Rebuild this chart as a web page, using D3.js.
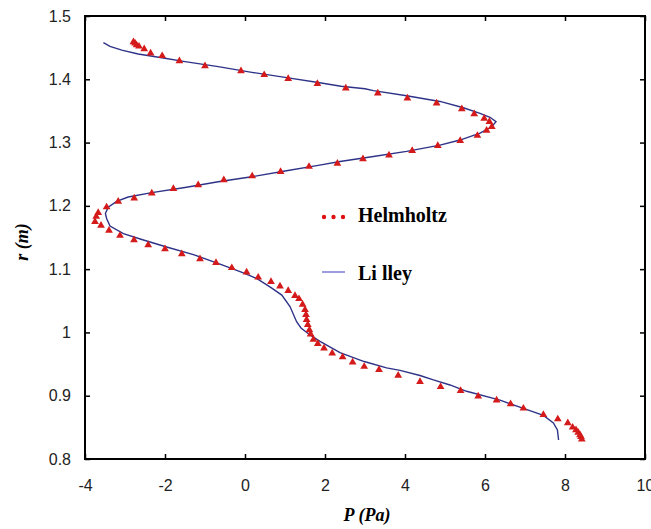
<!DOCTYPE html>
<html>
<head>
<meta charset="utf-8">
<script src="https://cdn.jsdelivr.net/npm/d3@7"></script>
<style>
  body { margin: 0; background: #fff; }
  .tick text { font-family: "Liberation Sans", Arial, sans-serif; font-size: 16px; fill: #222; }
  .tick line { stroke: #000; stroke-width: 1.5px; }
  .title { font-family: "Liberation Serif", "Times New Roman", serif; font-weight: bold; font-style: italic; font-size: 18px; }
  .legText { font-family: "Liberation Serif", "Times New Roman", serif; font-weight: bold; font-size: 20px; }
</style>
</head>
<body>
<div id="chart"></div>
<script>
// Axis ticks
var xTicks = [-4, -2, 0, 2, 4, 6, 8, 10];
var yTicks = [0.8, 0.9, 1, 1.1, 1.2, 1.3, 1.4, 1.5];

// Lilley (solid line): pressure P (Pa) and radius r (m)
var lilleyP = [-3.54, -3.375, -3.08, -2.67, -2.08, -1.5, -0.67, 0.17, 1.0, 1.83, 2.4, 3.0, 3.21, 4.04, 4.875, 5.46, 5.875, 6.125, 6.275,
  6.17, 5.875, 5.375, 4.875, 4.04, 3.21, 2.375, 1.83, 1.0, 0.17, -0.67, -1.5, -2.33, -2.92, -3.21, -3.42, -3.49, -3.46, -3.375,
  -3.04, -2.54, -1.96, -1.29, -0.625, -0.04, 0.3, 0.67, 0.92, 1.125, 1.29, 1.4, 1.625, 1.875, 2.375, 2.98, 3.54, 3.875, 4.375,
  4.71, 5.125, 5.54, 6.375, 6.96, 7.46, 7.71, 7.81, 7.84];
var lilleyR = [1.458, 1.452, 1.446, 1.440, 1.434, 1.428, 1.420, 1.411, 1.403, 1.395, 1.389, 1.385, 1.382, 1.374, 1.365, 1.355, 1.346, 1.340, 1.333,
  1.325, 1.315, 1.304, 1.296, 1.286, 1.278, 1.270, 1.264, 1.255, 1.246, 1.238, 1.229, 1.221, 1.214, 1.207, 1.198, 1.188, 1.180, 1.168,
  1.156, 1.146, 1.135, 1.123, 1.108, 1.094, 1.085, 1.070, 1.059, 1.041, 1.017, 1.007, 0.996, 0.986, 0.968, 0.954, 0.944, 0.940, 0.932,
  0.925, 0.917, 0.907, 0.893, 0.880, 0.869, 0.857, 0.846, 0.830];

// Helmholtz (red markers)
var helmP = [-2.79, -2.75, -2.71, -2.65, -2.52, -2.36, -2.07, -1.64, -1.0, -0.1, 0.48, 1.08, 1.81, 2.52, 3.32, 4.06, 4.79, 5.42, 5.73,
  5.98, 6.11, 6.17, 6.04, 5.81, 5.38, 4.82, 4.18, 3.6, 2.95, 2.31, 1.6, 0.89, 0.18, -0.53, -1.17, -1.79, -2.33, -2.77, -3.17, -3.46,
  -3.67, -3.72, -3.75, -3.6, -3.4, -3.125, -2.775, -2.42, -2.0, -1.58, -1.125, -0.725, -0.33, 0.04, 0.33, 0.65, 0.875, 1.08, 1.25,
  1.35, 1.44, 1.5, 1.525, 1.54, 1.57, 1.61, 1.64, 1.71, 1.82, 1.975, 2.18, 2.44, 2.69, 2.98, 3.35, 3.83, 4.375, 4.89, 5.39, 5.83,
  6.29, 6.64, 6.96, 7.46, 7.82, 8.07, 8.19, 8.275, 8.33, 8.375, 8.4, 8.42];
var helmR = [1.459, 1.457, 1.454, 1.452, 1.448, 1.441, 1.437, 1.429, 1.421, 1.413, 1.407, 1.401, 1.393, 1.386, 1.378, 1.370, 1.362, 1.353, 1.345,
  1.338, 1.333, 1.325, 1.319, 1.311, 1.303, 1.295, 1.287, 1.280, 1.274, 1.267, 1.262, 1.254, 1.247, 1.241, 1.233, 1.227, 1.220, 1.212, 1.207, 1.198,
  1.189, 1.183, 1.175, 1.169, 1.161, 1.153, 1.146, 1.138, 1.132, 1.124, 1.116, 1.110, 1.102, 1.095, 1.087, 1.080, 1.073, 1.066, 1.058,
  1.053, 1.044, 1.036, 1.028, 1.020, 1.012, 1.004, 0.997, 0.989, 0.982, 0.975, 0.967, 0.961, 0.953, 0.946, 0.941, 0.932, 0.922, 0.914, 0.908, 0.899,
  0.893, 0.887, 0.880, 0.870, 0.863, 0.857, 0.850, 0.846, 0.842, 0.838, 0.835, 0.831];

var width = 651, height = 529;
// plot frame edges
var plotLeft = 85, plotRight = 645, plotTop = 16, plotBottom = 459;

var svg = d3.select("#chart").append("svg")
  .attr("width", width)
  .attr("height", height);

var xScale = d3.scaleLinear().domain([-4, 10]).range([plotLeft, plotRight]);
var yScale = d3.scaleLinear().domain([0.8, 1.5]).range([plotBottom, plotTop]);

// plain hyphen for negatives, like the original
function xFmt(d) { return String(d); }
function yFmt(d) { return d === 1 ? "1" : d.toFixed(1); }

// axes with inward ticks on all four sides
svg.append("g")
  .attr("transform", "translate(0," + plotBottom + ")")
  .call(d3.axisBottom(xScale).tickValues(xTicks).tickSizeInner(-5).tickSizeOuter(0).tickPadding(21).tickFormat(xFmt))
  .call(function(g) { g.select(".domain").remove(); });
svg.append("g")
  .attr("transform", "translate(0," + plotTop + ")")
  .call(d3.axisTop(xScale).tickValues(xTicks).tickSizeInner(-5).tickSizeOuter(0).tickFormat(""))
  .call(function(g) { g.select(".domain").remove(); });
svg.append("g")
  .attr("transform", "translate(" + plotLeft + ",0)")
  .call(d3.axisLeft(yScale).tickValues(yTicks).tickSizeInner(-5).tickSizeOuter(0).tickPadding(14).tickFormat(yFmt))
  .call(function(g) { g.select(".domain").remove(); });
svg.append("g")
  .attr("transform", "translate(" + plotRight + ",0)")
  .call(d3.axisRight(yScale).tickValues(yTicks).tickSizeInner(-5).tickSizeOuter(0).tickFormat(""))
  .call(function(g) { g.select(".domain").remove(); });

// frame
svg.append("rect")
  .attr("x", plotLeft).attr("y", plotTop)
  .attr("width", plotRight - plotLeft).attr("height", plotBottom - plotTop)
  .attr("fill", "none").attr("stroke", "#000").attr("stroke-width", 2);

// Lilley line
var lilley = lilleyP.map(function(p, i) { return [p, lilleyR[i]]; });
var line = d3.line()
  .x(function(d) { return xScale(d[0]); })
  .y(function(d) { return yScale(d[1]); });
svg.append("path")
  .datum(lilley)
  .attr("d", line)
  .attr("fill", "none")
  .attr("stroke", "#2e3388")
  .attr("stroke-width", 1.4);

// Helmholtz markers
var helm = helmP.map(function(p, i) { return [p, helmR[i]]; });
var tri = d3.symbol().type(d3.symbolTriangle).size(26);
svg.append("g").selectAll("path")
  .data(helm)
  .enter()
  .append("path")
  .attr("d", tri)
  .attr("transform", function(d) { return "translate(" + xScale(d[0]) + "," + yScale(d[1]) + ")"; })
  .attr("fill", "#d41a1a");

// legend
[324, 333.5, 343].forEach(function(x) {
  svg.append("circle").attr("cx", x).attr("cy", 217).attr("r", 2.2).attr("fill", "#e01010");
});
svg.append("text").attr("class", "legText").attr("x", 358).attr("y", 222).text("Helmholtz");
svg.append("line").attr("x1", 322).attr("x2", 345).attr("y1", 272).attr("y2", 272)
  .attr("stroke", "#5a5ac8").attr("stroke-width", 1.2);
svg.append("text").attr("class", "legText").attr("x", 358).attr("y", 280).text("Li lley");

// axis titles
svg.append("text").attr("class", "title")
  .attr("x", 367).attr("y", 521).attr("text-anchor", "middle").text("P (Pa)");
svg.append("text").attr("class", "title")
  .attr("transform", "translate(28,242)rotate(-90)")
  .attr("text-anchor", "middle").text("r (m)");
</script>
</body>
</html>
